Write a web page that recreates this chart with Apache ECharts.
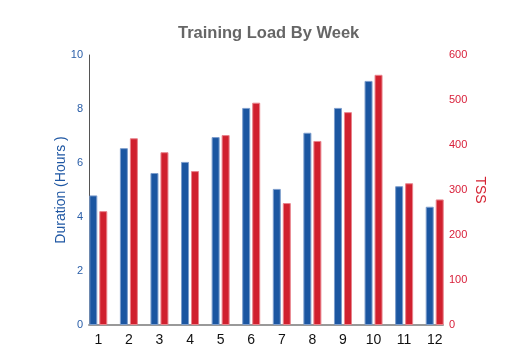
<!DOCTYPE html>
<html>
<head>
<meta charset="utf-8">
<script src="https://cdn.jsdelivr.net/npm/echarts@6/dist/echarts.min.js"></script>
<style>html,body{margin:0;padding:0;background:#fff}#c{width:525px;height:350px}</style>
</head>
<body>
<div id="c"></div>
<script>
const weeks = ['1','2','3','4','5','6','7','8','9','10','11','12'];
const durationHours = [4.8, 6.55, 5.63, 6.04, 6.96, 8.04, 5.04, 7.12, 8.04, 9.04, 5.14, 4.38];
const tss = [253, 415, 384, 342, 422, 494, 271, 409, 473, 556, 315, 279];

const chart = echarts.init(document.getElementById('c'), null, {renderer: 'canvas'});
chart.setOption({
  animation: false,
  backgroundColor: '#fff',
  title: {
    text: 'Training Load By Week',
    left: 173, top: 20,
    textStyle: {fontFamily: 'Liberation Sans, Arial', fontSize: 16.5, fontWeight: 'bold', color: '#666'}
  },
  grid: [
    {left: 83, right: 75, top: 55, bottom: 25},
    {left: 89, right: 82, top: 55, bottom: 25}
  ],
  xAxis: [
    {
      type: 'category', data: weeks, gridIndex: 0,
      axisLine: {show: false}, axisTick: {show: false},
      axisLabel: {color: '#111', fontSize: 14, margin: 8, fontFamily: 'Liberation Sans, Arial'}
    },
    {
      type: 'value', gridIndex: 1, min: 0, max: 1,
      axisLine: {show: true, lineStyle: {color: '#999', width: 2}},
      axisTick: {show: false}, axisLabel: {show: false}, splitLine: {show: false}
    }
  ],
  yAxis: [
    {
      type: 'value', gridIndex: 0, position: 'left', offset: -6,
      min: 0, max: 10, interval: 2,
      name: 'Duration (Hours )', nameLocation: 'middle', nameGap: 21, nameMoveOverlap: false,
      nameTextStyle: {color: '#1f57a3', fontSize: 14, fontFamily: 'Liberation Sans, Arial'},
      axisLine: {show: true, lineStyle: {color: '#555', width: 1}},
      axisTick: {show: false},
      axisLabel: {color: '#2a5ea8', fontSize: 11, margin: 6, fontFamily: 'Liberation Sans, Arial'},
      splitLine: {show: false}
    },
    {
      type: 'value', gridIndex: 0, position: 'right',
      min: 0, max: 600, interval: 100,
      name: 'TSS', nameLocation: 'middle', nameGap: 23, nameRotate: -90, nameMoveOverlap: false,
      nameTextStyle: {color: '#d42030', fontSize: 14, fontFamily: 'Liberation Sans, Arial'},
      axisLine: {show: false}, axisTick: {show: false},
      axisLabel: {color: '#d8203a', fontSize: 11, margin: -1, fontFamily: 'Liberation Sans, Arial'},
      splitLine: {show: false}
    },
    {
      type: 'value', gridIndex: 1, show: false
    }
  ],
  series: [
    {
      name: 'Duration', type: 'bar', xAxisIndex: 0, yAxisIndex: 0,
      data: durationHours, barWidth: 8, barGap: '25%',
      itemStyle: {color: '#1b56a1', borderColor: '#7c9dcc', borderWidth: 1}
    },
    {
      name: 'TSS', type: 'bar', xAxisIndex: 0, yAxisIndex: 1,
      data: tss, barWidth: 8, barGap: '25%',
      itemStyle: {color: '#d0202e', borderColor: '#e8838c', borderWidth: 1}
    }
  ]
});
</script>
</body>
</html>
